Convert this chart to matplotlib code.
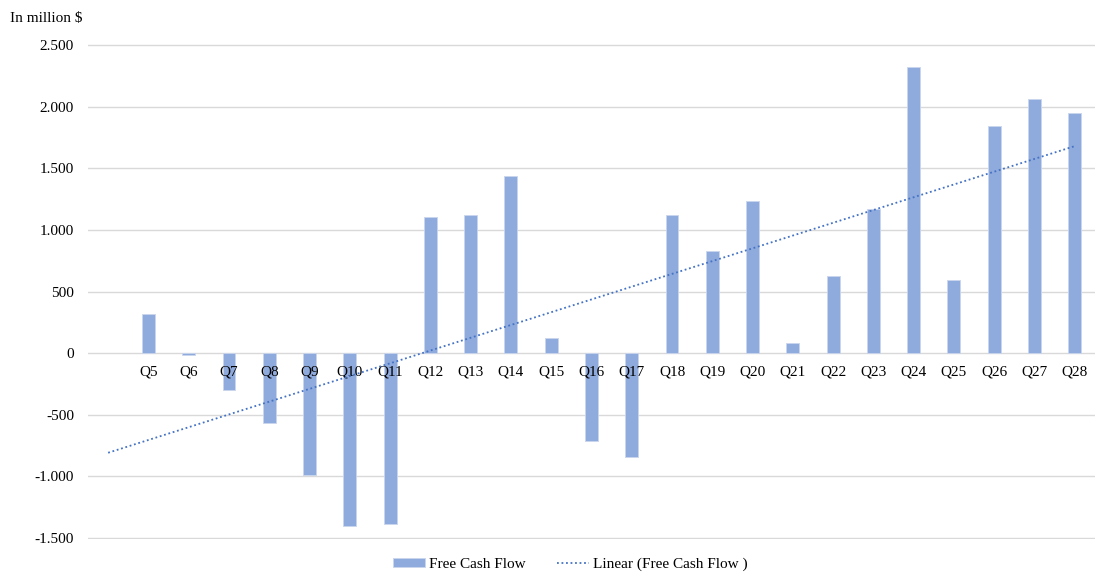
import matplotlib.pyplot as plt
import numpy as np

plt.rcParams['font.family'] = ['Liberation Serif', 'DejaVu Serif']

quarters = ['', 'Q5', 'Q6', 'Q7', 'Q8', 'Q9', 'Q10', 'Q11', 'Q12', 'Q13', 'Q14', 'Q15', 'Q16',
            'Q17', 'Q18', 'Q19', 'Q20', 'Q21', 'Q22', 'Q23', 'Q24', 'Q25', 'Q26', 'Q27', 'Q28']
fcf = [np.nan, 315, -15, -300, -568, -990, -1404, -1388, 1104, 1120, 1437, 122, -714,
       -844, 1120, 828, 1234, 81, 625, 1169, 2321, 593, 1843, 2062, 1948]
yticks = [-1500, -1000, -500, 0, 500, 1000, 1500, 2000, 2500]

bar_color = '#8FAADC'
trend_color = '#4472C4'

x = np.arange(len(quarters))
vals = np.array(fcf, dtype=float)

fig = plt.figure(figsize=(10.96, 5.74), dpi=100)
ax = fig.add_axes([0.0803, 0.0610, 0.9187, 0.8623])

bars = ax.bar(x, vals, width=0.32, color=bar_color, edgecolor='#C9D6EE', linewidth=0.6,
              label='Free Cash Flow', zorder=3)

# least squares trend, extended back over the blank first category
ok = ~np.isnan(vals)
k, b = np.polyfit(x[ok], vals[ok], 1)
trend, = ax.plot(x, k * x + b, color=trend_color, linestyle=(0, (1, 1.5)), linewidth=1.3,
                 label='Linear (Free Cash Flow )', zorder=6)

ax.set_xlim(-0.5, len(quarters) - 0.5)
ax.set_ylim(-1507, 2507)
ax.set_yticks(yticks)
ax.set_yticklabels([f'{v:,}'.replace(',', '.') for v in yticks], fontsize=11)
ax.yaxis.grid(True, color='#D9D9D9', linewidth=1, zorder=0)
ax.tick_params(axis='y', length=0, pad=10)

for s in ['top', 'right', 'left', 'bottom']:
    ax.spines[s].set_visible(False)
ax.set_xticks([])

# category labels sit just under the zero line, on top of the bars
for xi, q in zip(x, quarters):
    ax.annotate(q, (xi, 0), xytext=(0, -9), textcoords='offset points', ha='center',
                va='top', fontsize=11, zorder=5)

fig.text(0.009, 0.968, 'In million $', fontsize=11, ha='left', va='center')

ax.legend([bars, trend], ['Free Cash Flow', 'Linear (Free Cash Flow )'],
          loc='lower center', bbox_to_anchor=(0.479, -0.093), ncol=2, frameon=False,
          fontsize=11, handlelength=2.1, handleheight=0.5, columnspacing=2.0,
          handletextpad=0.3)

fig.savefig('out.png', dpi=100)
